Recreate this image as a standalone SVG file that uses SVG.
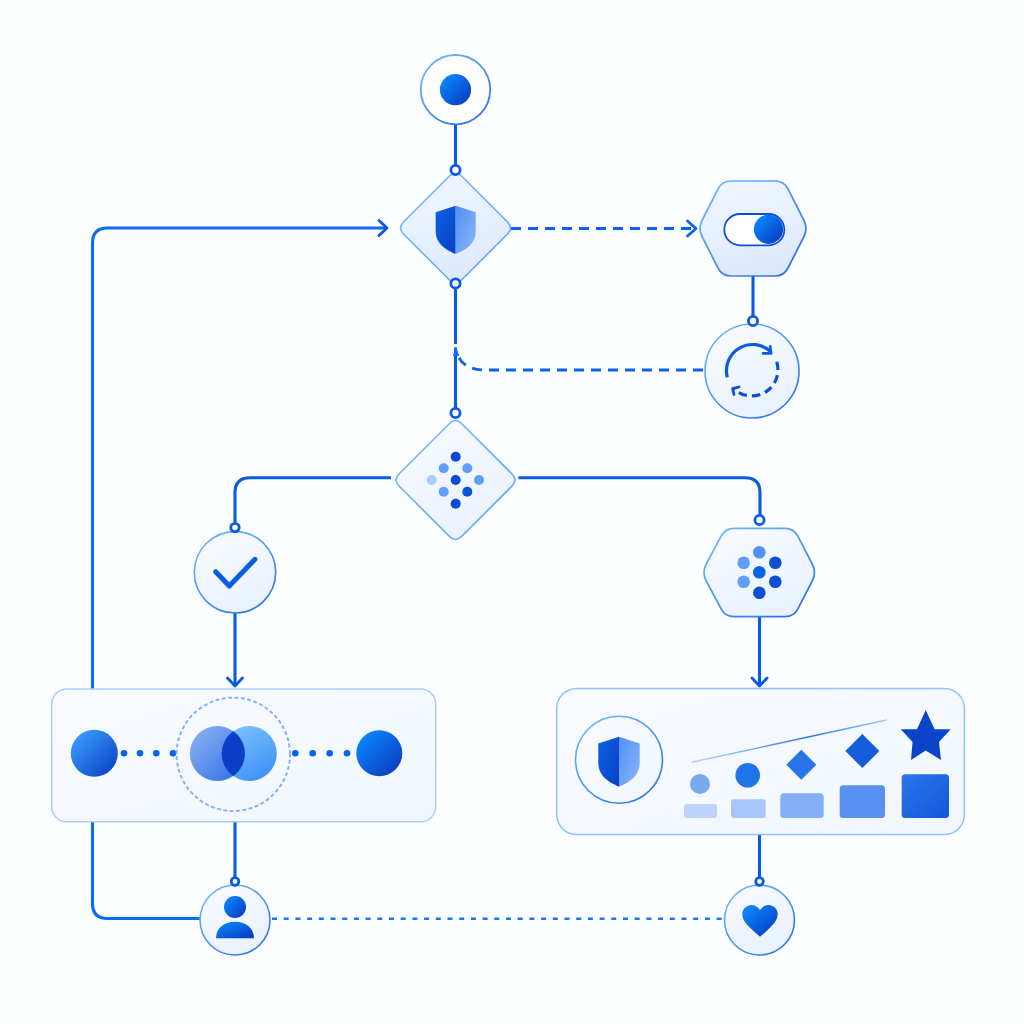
<svg xmlns="http://www.w3.org/2000/svg" xmlns:xlink="http://www.w3.org/1999/xlink" width="1024" height="1024" viewBox="0 0 1024 1024">
<defs>
<linearGradient id="ink" x1="0.1" y1="0.1" x2="0.9" y2="0.9"><stop offset="0" stop-color="#0a86ff"/><stop offset="1" stop-color="#0a3fc0"/></linearGradient>
<linearGradient id="ink2" x1="0.1" y1="0.1" x2="0.9" y2="0.9"><stop offset="0" stop-color="#3b9cff"/><stop offset="1" stop-color="#0a46c8"/></linearGradient>
<linearGradient id="edge" x1="0.1" y1="0.1" x2="0.8" y2="0.95"><stop offset="0" stop-color="#6fb4fb"/><stop offset="1" stop-color="#2a74ec"/></linearGradient>
<linearGradient id="edgeSoft" x1="0.1" y1="0.1" x2="0.8" y2="0.95"><stop offset="0" stop-color="#78b6fa"/><stop offset="1" stop-color="#5fa2f6"/></linearGradient>
<linearGradient id="fillNode" x1="0.2" y1="0" x2="0.7" y2="1"><stop offset="0" stop-color="#f8fbff"/><stop offset="1" stop-color="#e8f1fe"/></linearGradient>
<linearGradient id="fillHex" x1="0.3" y1="0" x2="0.6" y2="1"><stop offset="0" stop-color="#f0f6ff"/><stop offset="1" stop-color="#dce9fd"/></linearGradient>
<linearGradient id="panel" x1="0" y1="0" x2="1" y2="1"><stop offset="0" stop-color="#f8fbff"/><stop offset="1" stop-color="#f1f6ff"/></linearGradient>
<linearGradient id="shL" x1="0" y1="0" x2="1" y2="1"><stop offset="0" stop-color="#0b62e6"/><stop offset="1" stop-color="#0a3fc4"/></linearGradient>
<linearGradient id="shR" x1="0" y1="0" x2="1" y2="1"><stop offset="0" stop-color="#4f90f4"/><stop offset="1" stop-color="#8ab8fa"/></linearGradient>
<linearGradient id="vennL" x1="0" y1="0" x2="1" y2="1"><stop offset="0" stop-color="#93b5f3"/><stop offset="1" stop-color="#2a6ce6"/></linearGradient>
<linearGradient id="vennR" x1="0.2" y1="0" x2="0.8" y2="1"><stop offset="0" stop-color="#7cc2ff"/><stop offset="1" stop-color="#3a90f5"/></linearGradient>
<linearGradient id="trend" gradientUnits="userSpaceOnUse" x1="691.7" y1="762.3" x2="886.7" y2="720"><stop offset="0" stop-color="#bcd6fb"/><stop offset="0.6" stop-color="#2d74ea"/><stop offset="1" stop-color="#a9c9fa"/></linearGradient>
<linearGradient id="bar5" x1="0" y1="0" x2="1" y2="1"><stop offset="0" stop-color="#2c76ea"/><stop offset="1" stop-color="#1257dc"/></linearGradient>
<linearGradient id="dia4" x1="0" y1="0" x2="1" y2="1"><stop offset="0" stop-color="#1a62e0"/><stop offset="1" stop-color="#1257d8"/></linearGradient>
<marker id="chev" markerUnits="userSpaceOnUse" viewBox="-12 -10 14 20" refX="0" refY="0" markerWidth="14" markerHeight="20" orient="auto"><path d="M-8,-7.5 L0,0 L-8,7.5" fill="none" stroke="#0a5ae2" stroke-width="2.8" stroke-linecap="round" stroke-linejoin="round"/></marker>
<g id="shield"><path d="M0,0 L-20,6.6 V26 C-20,37 -11,44 0,48.3 Z" fill="url(#shL)"/><path d="M0,0 L20,6.6 V26 C20,37 11,44 0,48.3 Z" fill="url(#shR)"/></g>
</defs>
<style>
.node{fill:url(#fillNode);stroke:url(#edge);stroke-width:1.6}
.hex{fill:url(#fillHex);stroke:url(#edge);stroke-width:1.7}
.dia{fill:url(#fillHex);stroke:url(#edgeSoft);stroke-width:1.6}
.panel{fill:url(#panel);stroke:#a9cefb;stroke-width:1.5}
.line{fill:none;stroke:#0a5ae2;stroke-width:3.1}
.dash{fill:none;stroke:#0a63f0;stroke-width:2.8;stroke-dasharray:10 7}
.dot{fill:none;stroke:#1479f5;stroke-width:2.6;stroke-dasharray:5 6.7}
.port{fill:#fff;stroke:#0a5ae2;stroke-width:2.8}
.mid{fill:#5f9ff6}
.deep{fill:#0a4ad0}
.pip{fill:#0a62ea}
</style>
<rect width="1024" height="1024" fill="#fdfeff"/>
<g id="connectors">
<path class="line" d="M455.5,124 V166"/>
<path class="line" d="M455.5,288 V344 M455.5,347.5 V408"/>
<path class="line" d="M753,276 V316"/>
<path class="line" d="M391,477.7 H250 Q235,477.7 235,492.7 V522.5"/>
<path class="line" d="M518.5,477.7 H745 Q760,477.7 760,492.7 V515"/>
<path class="line" d="M235,613 V686" marker-end="url(#chev)"/>
<path class="line" d="M759.5,617 V686" marker-end="url(#chev)"/>
<path class="line" d="M235,822 V877"/>
<path class="line" d="M759.5,835 V877"/>
<path class="line" style="stroke:#0a6cf0" d="M92.5,689 V243 Q92.5,228 107.5,228 H387" marker-end="url(#chev)"/>
<path class="line" style="stroke:#0a6cf0" d="M92.5,822 V903.5 Q92.5,918.5 107.5,918.5 H201"/>
<path class="dash" d="M511,228.5 H692"/>
<path d="M687.5,221 L696,228.5 L687.5,236" fill="none" stroke="#0a63f0" stroke-width="2.8" stroke-linecap="round" stroke-linejoin="round"/>
<path class="dash" d="M703,370 H484 Q470,370 461.5,361.5 L458,356"/>
<path d="M456,346.5 L459.2,356 L453,356 Z" fill="#0a72f5"/>
<path class="dot" d="M272,918.7 H724"/>
</g>
<g id="start">
<circle cx="455.5" cy="89.7" r="34.7" fill="#fff" stroke="url(#edge)" stroke-width="1.8"/>
<circle cx="455.5" cy="89.7" r="15.6" fill="url(#ink)"/>
</g>
<g id="decision-shield">
<path class="dia" d="M449.5,176 Q455.5,170 461.5,176 L507.5,222 Q513.5,228 507.5,234 L461.5,280 Q455.5,286 449.5,280 L403.5,234 Q397.5,228 403.5,222 Z"/>
<use xlink:href="#shield" href="#shield" transform="translate(455.7,205.7)"/>
</g>
<g id="toggle">
<path class="hex" d="M731,181 L775,181 Q784,181 788,189 L804,220.5 Q808,228.5 804,236.5 L788,268 Q784,276 775,276 L731,276 Q722,276 718,268 L702,236.5 Q698,228.5 702,220.5 L718,189 Q722,181 731,181 Z"/>
<rect x="724.3" y="214" width="60" height="31.3" rx="15.6" fill="#fff" stroke="#0e50d4" stroke-width="1.8"/>
<circle cx="768.5" cy="229.3" r="14.6" fill="url(#ink)"/>
</g>
<g id="refresh">
<circle class="node" cx="752" cy="371" r="47"/>
<path d="M727.3,377.3 A26.2,26.2 0 0 1 770.7,351.7" fill="none" stroke="#0a5ae2" stroke-width="3.2"/>
<path d="M763,353.4 H771 L770.2,346.5" fill="none" stroke="#0a5ae2" stroke-width="2.8" stroke-linecap="round" stroke-linejoin="round"/>
<path d="M776.7,361.7 A26.2,26.2 0 0 1 734,389" fill="none" stroke="#0a4fd6" stroke-width="3.2" stroke-dasharray="8.5 5"/>
<path d="M739,387 L732.6,388.6 L734,394.5" fill="none" stroke="#0a4fd6" stroke-width="2.8" stroke-linecap="round" stroke-linejoin="round"/>
</g>
<g id="decision-dots">
<path class="dia" d="M449.5,423.5 Q455.5,417.5 461.5,423.5 L512,474 Q518,480 512,486 L461.5,536.5 Q455.5,542.5 449.5,536.5 L399,486 Q393,480 399,474 Z" style="fill:url(#fillNode)"/>
<circle class="deep" cx="455.7" cy="456.7" r="5"/>
<circle class="mid" cx="443.7" cy="468.3" r="5"/>
<circle class="mid" cx="467.3" cy="468.3" r="5"/>
<circle cx="431.7" cy="480" r="5" fill="#a8cefc"/>
<circle class="deep" cx="455.7" cy="480" r="5"/>
<circle class="mid" cx="479" cy="480" r="5"/>
<circle class="mid" cx="443.7" cy="491.7" r="5"/>
<circle cx="467.3" cy="491.7" r="5" fill="#0b55d8"/>
<circle class="deep" cx="455.7" cy="503.7" r="5"/>
</g>
<g id="check">
<circle class="node" cx="235" cy="572.3" r="40.7"/>
<path d="M215.7,571.7 L229.3,586 L255,559.3" fill="none" stroke="#0a5ee6" stroke-width="5" stroke-linecap="round" stroke-linejoin="round"/>
</g>
<g id="hex-dots">
<path class="hex" d="M734,528.3 L785,528.3 Q794,528.3 798,536.3 L812.5,564.5 Q816.5,572.5 812.5,580.5 L798,608.7 Q794,616.7 785,616.7 L734,616.7 Q725,616.7 721,608.7 L706,580.5 Q702,572.5 706,564.5 L721,536.3 Q725,528.3 734,528.3 Z" style="fill:url(#fillNode)"/>
<circle cx="759.3" cy="552.3" r="6.3" fill="#4f94f5"/>
<circle cx="743.7" cy="562.7" r="6.3" fill="#5f9ff6"/>
<circle cx="775.3" cy="562.7" r="6.3" fill="#0b50d4"/>
<circle cx="759.3" cy="572.3" r="6.3" fill="#0a62ea"/>
<circle cx="743.7" cy="581.7" r="6.3" fill="#5f9ff6"/>
<circle cx="775.3" cy="581.7" r="6.3" fill="#0b50d4"/>
<circle cx="759.3" cy="592.7" r="6.3" fill="#0b50d4"/>
</g>
<g id="merge-panel">
<rect class="panel" x="51.7" y="689" width="384" height="132.8" rx="15"/>
<circle cx="94.3" cy="753.3" r="23.5" fill="url(#ink2)"/>
<circle cx="379.3" cy="753.3" r="23" fill="url(#ink)"/>
<circle class="pip" cx="124" cy="753.3" r="3.3"/>
<circle class="pip" cx="140" cy="753.3" r="3.3"/>
<circle class="pip" cx="156.3" cy="753.3" r="3.3"/>
<circle class="pip" cx="173" cy="753.3" r="3.3"/>
<circle class="pip" cx="295.3" cy="753.3" r="3.3"/>
<circle class="pip" cx="312.7" cy="753.3" r="3.3"/>
<circle class="pip" cx="329.7" cy="753.3" r="3.3"/>
<circle class="pip" cx="347" cy="753.3" r="3.3"/>
<circle cx="233.3" cy="754.3" r="56.7" fill="none" stroke="#7fb2f7" stroke-width="2" stroke-dasharray="2.2 4.2" stroke-linecap="round"/>
<circle cx="249.3" cy="753.6" r="27.5" fill="url(#vennR)"/>
<circle cx="217.3" cy="753.6" r="27.5" fill="url(#vennL)"/>
<path d="M233.3,731.2 A27.5,27.5 0 0 1 233.3,776 A27.5,27.5 0 0 1 233.3,731.2 Z" fill="#0a3fc8"/>
</g>
<g id="chart-panel">
<rect class="panel" x="556.7" y="688.4" width="407.7" height="146.2" rx="20" style="stroke:#8ec0fa"/>
<circle class="node" cx="619" cy="759.7" r="43.5" style="fill:url(#panel)"/>
<use xlink:href="#shield" href="#shield" transform="translate(619,736.7) scale(1.035)"/>
<path d="M691.7,762.3 L886.7,720" fill="none" stroke="url(#trend)" stroke-width="1.4"/>
<rect x="684" y="804" width="33" height="14" rx="3" fill="#bcd4fb"/>
<rect x="731" y="799.3" width="34.7" height="18.7" rx="3" fill="#a6c5f9"/>
<rect x="780.3" y="793.3" width="43.4" height="24.7" rx="3.5" fill="#84aef6"/>
<rect x="839.7" y="785.3" width="45.3" height="32.7" rx="3.5" fill="#5990f2"/>
<rect x="901.7" y="774.3" width="47.3" height="43.7" rx="3.5" fill="url(#bar5)"/>
<circle cx="700" cy="784" r="10" fill="#7aa9f3"/>
<circle cx="747.7" cy="775.3" r="12.3" fill="#1f74e8"/>
<path d="M801.3,749.7 L816.3,764.7 L801.3,779.7 L786.3,764.7 Z" fill="#2a74ea"/>
<path d="M862.3,734 L879.3,751 L862.3,768 L845.3,751 Z" fill="url(#dia4)"/>
<path d="M925.7,710 L934.6,729.3 L950.7,729.3 L939,742 L941,760 L925.7,750.5 L911,760 L912.6,742 L900.7,729.3 L917,729.3 Z" fill="#0a44c8"/>
</g>
<g id="user">
<circle class="node" cx="235" cy="920" r="35"/>
<circle cx="235" cy="907" r="11" fill="url(#ink)"/>
<path d="M216,938.3 C216,928 224,921.7 235,921.7 C246,921.7 254,928 254,938.3 Z" fill="url(#ink)"/>
</g>
<g id="heart">
<circle class="node" cx="759.5" cy="920" r="35"/>
<path d="M760,936.7 C750,928 742.3,922 742.3,914 C742.3,908.5 747,905 751.5,905 C755,905 758,907 760,910 C762,907 765,905 768.5,905 C773,905 777.7,908.5 777.7,914 C777.7,922 770,928 760,936.7 Z" fill="url(#ink)"/>
</g>
<g id="connector-ports">
<circle class="port" cx="455.5" cy="170" r="4.6"/>
<circle class="port" cx="455.5" cy="283.5" r="4.6"/>
<circle class="port" cx="455.5" cy="413" r="4.6"/>
<circle class="port" cx="753" cy="321" r="4.6"/>
<circle class="port" cx="235" cy="527.5" r="4.2"/>
<circle class="port" cx="759.5" cy="520" r="4.6"/>
<circle class="port" cx="235" cy="881.5" r="3.8"/>
<circle class="port" cx="759.5" cy="881.5" r="3.8"/>
</g>
</svg>
